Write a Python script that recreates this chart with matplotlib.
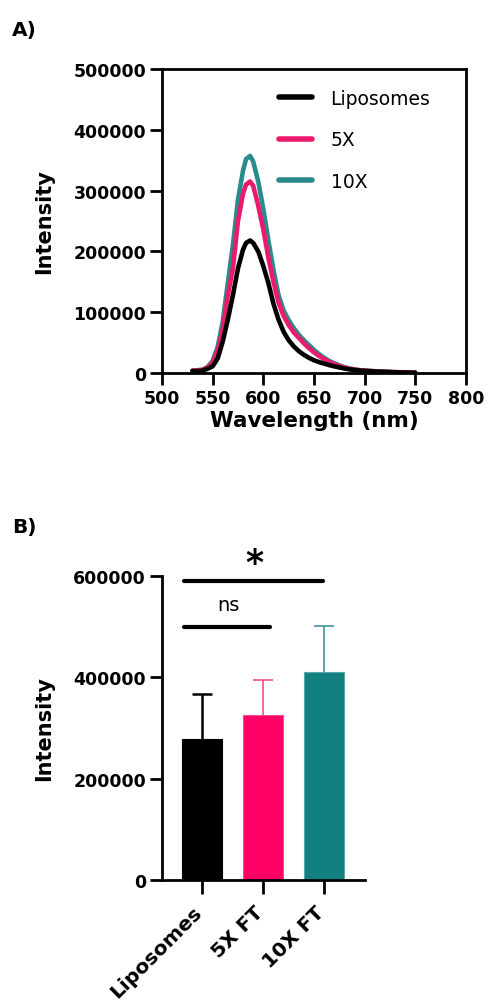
import matplotlib
matplotlib.use('Agg')
import matplotlib.pyplot as plt
from matplotlib.transforms import ScaledTranslation

plt.rcParams['font.family'] = ['DejaVu Sans']

# Panel A: emission spectra
wavelength = [530, 535, 540, 545, 550, 555, 560, 565, 570, 575, 580, 583, 587, 590, 595, 600,
              605, 610, 615, 620, 625, 630, 635, 640, 645, 650, 655, 660, 665, 670, 675, 680,
              685, 690, 695, 700, 710, 720, 730, 740, 750]
liposomes = [3000, 3200, 3800, 7000, 11000, 24000, 52000, 88000, 128000, 172000, 203000, 214000,
             218000, 214000, 200000, 176000, 148000, 114000, 88000, 68000, 54000, 44000, 36000,
             30000, 25000, 21000, 18000, 15500, 13000, 11000, 9200, 7500, 6000, 5000, 4000, 3500,
             2500, 1800, 1200, 800, 500]
x5 = [4000, 4500, 5000, 9000, 17000, 37000, 72000, 128000, 172000, 250000, 295000, 310000,
      315000, 308000, 275000, 236000, 190000, 150000, 116000, 94000, 79000, 67000, 58000, 49000,
      41000, 34000, 28000, 23000, 18500, 14500, 11500, 9000, 7000, 5500, 4500, 3800, 2800, 2000,
      1400, 1000, 700]
x10 = [4000, 4500, 5500, 10000, 20000, 43000, 85000, 148000, 210000, 285000, 333000, 352000,
       357000, 348000, 315000, 270000, 218000, 170000, 128000, 103000, 87000, 74000, 63000, 54000,
       46000, 38000, 31000, 25000, 20000, 16000, 12500, 9500, 7500, 6000, 4800, 4000, 3000, 2200,
       1500, 1000, 700]

# Panel B: mean intensity with upper SD
groups = ['Liposomes', '5X FT', '10X FT']
means = [278000, 326000, 411000]
sd = [89000, 68000, 91000]

BLACK = '#000000'
PINK_LINE = '#EA1B6D'
TEAL_LINE = '#2B8A8C'
PINK_BAR = '#FF0066'
TEAL_BAR = '#128080'
PINK_ERR = '#F0508A'
TEAL_ERR = '#3E9599'

fig = plt.figure(figsize=(4.87, 10.03), dpi=100)

ax1 = fig.add_axes([0.3326, 0.6271, 0.6242, 0.3031])
l10, = ax1.plot(wavelength, x10, color=TEAL_LINE, lw=3.3, zorder=2, solid_capstyle='round')
l5, = ax1.plot(wavelength, x5, color=PINK_LINE, lw=3.3, zorder=3, solid_capstyle='round')
l0, = ax1.plot(wavelength, liposomes, color=BLACK, lw=3.3, zorder=4, solid_capstyle='round')
ax1.set_xlim(500, 800)
ax1.set_ylim(0, 500000)
ax1.set_xticks(range(500, 801, 50))
ax1.set_yticks(range(0, 500001, 100000))
ax1.set_xlabel('Wavelength (nm)', fontsize=15.5, fontweight='bold', labelpad=2)
ax1.set_ylabel('Intensity', fontsize=15, fontweight='bold', labelpad=14)
leg = ax1.legend([l0, l5, l10], ['Liposomes', '5X', '10X'], loc='upper left',
                 bbox_to_anchor=(0.385, 0.935), frameon=False, fontsize=13.5,
                 handlelength=1.75, handletextpad=1.0, labelspacing=1.2,
                 borderpad=0, borderaxespad=0)
for h in leg.get_lines():
    h.set_linewidth(4.0)

ax2 = fig.add_axes([0.3326, 0.1216, 0.4168, 0.3031])
pos = list(range(len(groups)))
ax2.bar(pos, means, width=0.66, color=[BLACK, PINK_BAR, TEAL_BAR],
        edgecolor=[BLACK, '#F0508A', '#5AA8AA'], linewidth=0.8, zorder=2)
err_cols = [BLACK, PINK_ERR, TEAL_ERR]
err_lw = [1.8, 1.2, 1.2]
for i in pos:
    eb = ax2.errorbar(pos[i], means[i], yerr=[[0], [sd[i]]], fmt='none', ecolor=err_cols[i],
                      elinewidth=err_lw[i], capsize=7.5, capthick=err_lw[i], zorder=1)
    # only the upper cap is shown
    eb[1][0].set_visible(False)
ax2.set_xlim(-0.66, 2.67)
ax2.set_ylim(0, 600000)
ax2.set_yticks(range(0, 600001, 200000))
ax2.set_xticks(pos)
ax2.set_xticklabels(groups, rotation=45, ha='right', rotation_mode='anchor')
ax2.set_ylabel('Intensity', fontsize=15, fontweight='bold', labelpad=14)
ax2.spines['top'].set_visible(False)
ax2.spines['right'].set_visible(False)

# significance brackets
ax2.plot([-0.30, 1.11], [500000, 500000], color=BLACK, lw=3.0, solid_capstyle='round', clip_on=False)
ax2.plot([-0.30, 1.98], [590000, 590000], color=BLACK, lw=3.0, solid_capstyle='round', clip_on=False)
ax2.text(0.43, 543000, 'ns', ha='center', va='center', fontsize=14)
ax2.text(0.85, 625000, '*', ha='center', va='center', fontsize=25, fontweight='bold')

for ax in (ax1, ax2):
    for sp in ax.spines.values():
        sp.set_linewidth(2.0)
    ax.tick_params(width=2.0, length=8.5, direction='out', labelsize=12.5, pad=3)
    for lab in ax.get_xticklabels() + ax.get_yticklabels():
        lab.set_fontweight('bold')
ax2.tick_params(axis='x', labelsize=14.5, length=10)
shift = ScaledTranslation(-7 / 72, -3 / 72, fig.dpi_scale_trans)
for lab in ax2.get_xticklabels():
    lab.set_transform(lab.get_transform() + shift)

fig.text(0.025, 0.970, 'A)', fontsize=14.5, fontweight='bold', va='center')
fig.text(0.025, 0.474, 'B)', fontsize=14.5, fontweight='bold', va='center')

fig.savefig('out.png', dpi=100)
